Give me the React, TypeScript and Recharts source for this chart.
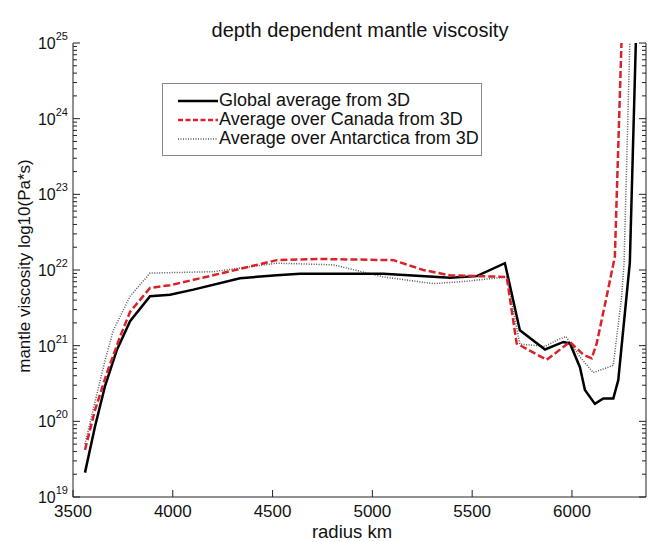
import React from 'react';
import { LineChart, Line, XAxis, YAxis } from 'recharts';

// radius (km) and viscosity (Pa*s)
const globalR = [3560, 3610, 3660, 3719, 3786, 3886, 3986, 4103, 4337, 4521, 4637, 5055, 5389, 5523, 5664, 5739, 5865, 5957, 5990, 6040, 6065, 6115, 6157, 6207, 6232, 6290, 6320];
const globalV = [2.1e19, 8.5e19, 2.9e20, 8.7e20, 2.1e21, 4.5e21, 4.7e21, 5.5e21, 7.8e21, 8.5e21, 8.9e21, 8.9e21, 7.9e21, 8.3e21, 1.23e22, 1.6e21, 8.9e20, 1.12e21, 1.07e21, 5.2e20, 2.6e20, 1.7e20, 2.0e20, 2.0e20, 3.5e20, 1.25e22, 1e25];

const canadaR = [3560, 3610, 3669, 3735, 3786, 3886, 3986, 4201, 4521, 4721, 5105, 5255, 5389, 5673, 5723, 5873, 5990, 6057, 6099, 6124, 6174, 6215, 6248];
const canadaV = [4.2e19, 1.4e20, 4.3e20, 1.3e21, 2.8e21, 5.8e21, 6.3e21, 8.5e21, 1.35e22, 1.4e22, 1.35e22, 1.0e22, 8.5e21, 8.1e21, 1.07e21, 6.5e20, 1.12e21, 7.6e20, 6.8e20, 1.07e21, 4.5e21, 1.5e22, 1e25];

const antarcticaR = [3560, 3610, 3660, 3702, 3786, 3886, 4201, 4521, 4804, 5055, 5305, 5472, 5673, 5739, 5865, 5930, 5970, 6040, 6107, 6207, 6249, 6261, 6290];
const antarcticaV = [5.0e19, 1.8e20, 6.3e20, 1.6e21, 4.5e21, 9.1e21, 9.5e21, 1.23e22, 1.17e22, 8.1e21, 6.6e21, 7.1e21, 8.1e21, 1.05e21, 9.8e20, 1.2e21, 1.32e21, 7.1e20, 4.4e20, 5.5e20, 4.5e21, 1.23e22, 1e25];

const xTicks = [3500, 4000, 4500, 5000, 5500, 6000];
const yMajorTicks = [1e19, 1e20, 1e21, 1e22, 1e23, 1e24, 1e25];
const minorMultipliers = [2, 3, 4, 5, 6, 7, 8, 9];
const yTicks: number[] = [];
yMajorTicks.forEach((m, i) => {
  yTicks.push(m);
  if (i < yMajorTicks.length - 1) minorMultipliers.forEach((k) => yTicks.push(m * k));
});

const seriesNames = ['Global average from 3D', 'Average over Canada from 3D', 'Average over Antarctica from 3D'];

const globalData = globalR.map((r, i) => ({ r, v: globalV[i] }));
const canadaData = canadaR.map((r, i) => ({ r, v: canadaV[i] }));
const antarcticaData = antarcticaR.map((r, i) => ({ r, v: antarcticaV[i] }));

const FONT = '"Liberation Sans", Arial, Helvetica, sans-serif';
const AXIS = '#222';
const RED = '#dc2228';
const GRAY = '#555';

const isMajor = (v: number) => {
  const l = Math.log10(v);
  return Math.abs(l - Math.round(l)) < 1e-6;
};

const LeftTick = (props: any) => {
  const { x, y, payload } = props;
  const v = payload.value;
  const major = isMajor(v);
  const e = Math.round(Math.log10(v));
  return (
    <g>
      <line x1={x} x2={x + (major ? 7 : 4)} y1={y} y2={y} stroke={AXIS} strokeWidth={1} />
      {major && (
        <text x={x - 5} y={y + 6} textAnchor="end" fontFamily={FONT} fontSize={16} fill="#111">
          10<tspan dy={-9} fontSize={11}>{e}</tspan>
        </text>
      )}
    </g>
  );
};

const RightTick = (props: any) => {
  const { x, y, payload } = props;
  const major = isMajor(payload.value);
  return <line x1={x} x2={x - (major ? 7 : 4)} y1={y} y2={y} stroke={AXIS} strokeWidth={1} />;
};

const BottomTick = (props: any) => {
  const { x, y, payload } = props;
  return (
    <g>
      <line x1={x} x2={x} y1={y} y2={y - 7} stroke={AXIS} strokeWidth={1} />
      <text x={x} y={y + 20} textAnchor="middle" fontFamily={FONT} fontSize={17} fill="#111">
        {payload.value}
      </text>
    </g>
  );
};

const TopTick = (props: any) => {
  const { x, y } = props;
  return <line x1={x} x2={x} y1={y} y2={y + 7} stroke={AXIS} strokeWidth={1} />;
};

const LegendBox = () => {
  const samples = [
    { stroke: '#000', dash: undefined, width: 2.5 },
    { stroke: RED, dash: '5 2.5', width: 2.5 },
    { stroke: GRAY, dash: '1 1.5', width: 1.5 },
  ];
  return (
    <div
      style={{
        position: 'absolute',
        left: 162,
        top: 83,
        border: '1px solid #888',
        background: '#fff',
        width: 320,
        height: 73,
        boxSizing: 'border-box',
        paddingTop: 7,
        fontFamily: FONT,
        fontSize: 18,
        color: '#111',
      }}
    >
      {seriesNames.map((n, i) => (
        <div key={n} style={{ display: 'flex', alignItems: 'center', height: 19, whiteSpace: 'nowrap' }}>
          <svg width={56} height={10} style={{ flex: 'none' }}>
            <line x1={15} x2={55} y1={5} y2={5} stroke={samples[i].stroke} strokeWidth={samples[i].width} strokeDasharray={samples[i].dash} />
          </svg>
          <span>{n}</span>
        </div>
      ))}
    </div>
  );
};

export default function App() {
  return (
    <div style={{ position: 'absolute', left: 0, top: 0, width: 649, height: 542, background: '#fff' }}>
      <LineChart width={649} height={542} margin={{ top: 43, right: 0, bottom: 0, left: 0 }}>
        <XAxis
          xAxisId="b"
          type="number"
          dataKey="r"
          domain={[3500, 6371]}
          ticks={xTicks}
          interval={0}
          allowDataOverflow
          height={45}
          tickSize={0}
          tickMargin={0}
          tickLine={false}
          axisLine={{ stroke: AXIS, strokeWidth: 1 }}
          tick={<BottomTick />}
        />
        <XAxis
          xAxisId="t"
          orientation="top"
          type="number"
          dataKey="r"
          domain={[3500, 6371]}
          ticks={xTicks}
          interval={0}
          allowDataOverflow
          height={0}
          tickSize={0}
          tickMargin={0}
          tickLine={false}
          axisLine={{ stroke: AXIS, strokeWidth: 1 }}
          tick={<TopTick />}
        />
        <YAxis
          yAxisId="l"
          type="number"
          scale="log"
          dataKey="v"
          domain={[1e19, 1e25]}
          ticks={yTicks}
          interval={0}
          allowDataOverflow
          width={73}
          tickSize={0}
          tickMargin={0}
          tickLine={false}
          axisLine={{ stroke: AXIS, strokeWidth: 1 }}
          tick={<LeftTick />}
        />
        <YAxis
          yAxisId="r"
          orientation="right"
          type="number"
          scale="log"
          dataKey="v"
          domain={[1e19, 1e25]}
          ticks={yTicks}
          interval={0}
          allowDataOverflow
          width={3}
          tickSize={0}
          tickMargin={0}
          tickLine={false}
          axisLine={{ stroke: AXIS, strokeWidth: 1 }}
          tick={<RightTick />}
        />
        <Line
          xAxisId="b"
          yAxisId="l"
          data={antarcticaData}
          dataKey="v"
          name={seriesNames[2]}
          type="linear"
          stroke={GRAY}
          strokeWidth={1.5}
          strokeDasharray="1 1.5"
          dot={false}
          isAnimationActive={false}
        />
        <Line
          xAxisId="b"
          yAxisId="l"
          data={globalData}
          dataKey="v"
          name={seriesNames[0]}
          type="linear"
          stroke="#000"
          strokeWidth={2.5}
          dot={false}
          isAnimationActive={false}
        />
        <Line
          xAxisId="b"
          yAxisId="l"
          data={canadaData}
          dataKey="v"
          name={seriesNames[1]}
          type="linear"
          stroke={RED}
          strokeWidth={2.5}
          strokeDasharray="7 3"
          dot={false}
          isAnimationActive={false}
        />
      </LineChart>
      <LegendBox />
      <svg width={649} height={542} style={{ position: 'absolute', left: 0, top: 0, pointerEvents: 'none' }}>
        <text x={360} y={37} textAnchor="middle" fontFamily={FONT} fontSize={20} fill="#111">
          depth dependent mantle viscosity
        </text>
        <text x={352} y={538} textAnchor="middle" fontFamily={FONT} fontSize={18.5} fill="#111">
          radius km
        </text>
        <text x={30} y={266} textAnchor="middle" fontFamily={FONT} fontSize={17} fill="#111" transform="rotate(-90, 30, 266)">
          mantle viscosity log10(Pa*s)
        </text>
      </svg>
    </div>
  );
}
